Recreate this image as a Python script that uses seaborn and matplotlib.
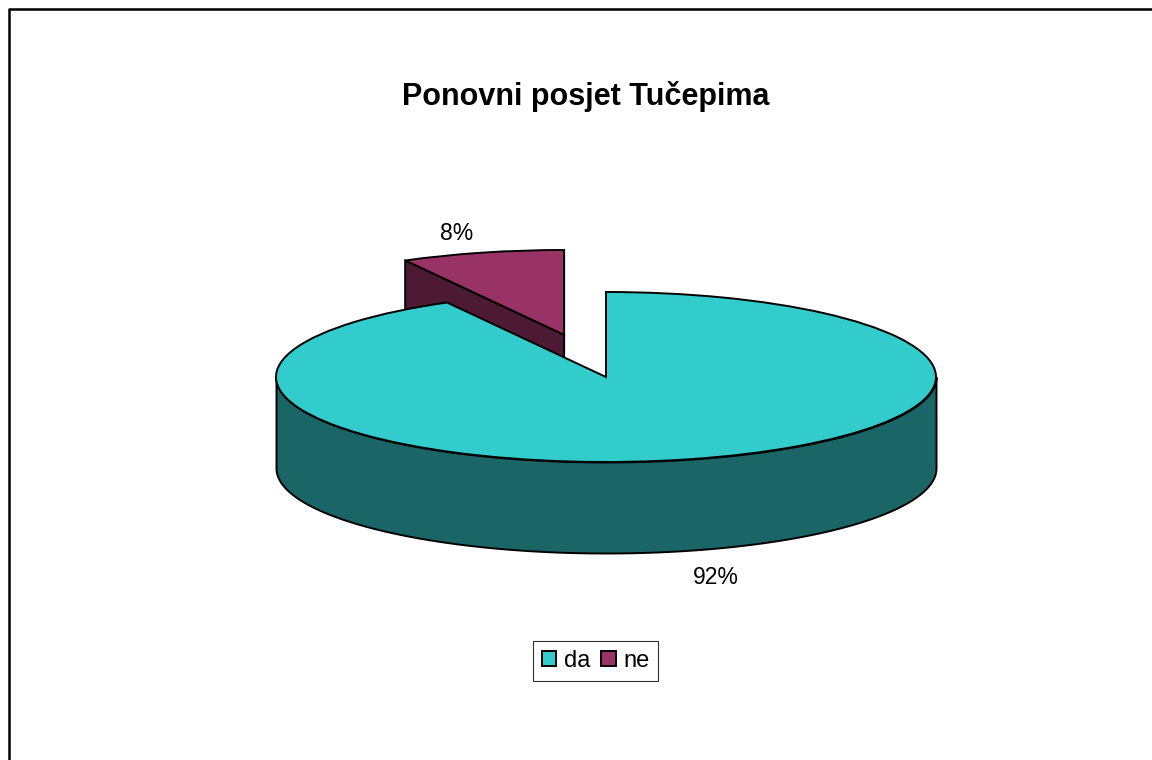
import matplotlib
matplotlib.use('Agg')
import matplotlib.pyplot as plt
import seaborn as sns
import numpy as np

title = 'Ponovni posjet Tučepima'
categories = ['da', 'ne']
values = [92, 8]
pct_labels = ['92%', '8%']

W, H = 1152, 760
# top ellipse of the pie in pixels
cx, cy, rx, ry = 606, 377, 330, 85
depth = 91 / ry
explode = [0, 0.51]

sns.set_theme(style='white')
plt.rcParams['font.family'] = ['Liberation Sans', 'DejaVu Sans']

top_cols = sns.color_palette(['#33CCCC', '#993366'])
side_cols = sns.color_palette(['#1A6666', '#4D1A33'])

fig = plt.figure(figsize=(W / 100, H / 100), dpi=100)
ax = fig.add_axes([0, 0, 1, 1])

wedges, _ = ax.pie(values, startangle=90, counterclock=False, explode=explode,
                   colors=top_cols, wedgeprops={'edgecolor': 'black', 'linewidth': 1.4, 'zorder': 5})
main, small = wedges
small.set_zorder(2)

# pie() forces a round pie, squash it to get the tilted look
ax.set_aspect('auto')
ax.set_xlim(-cx / rx, (W - cx) / rx)
ax.set_ylim(-(H - cy) / ry, cy / ry)

# front wall of the big slice
t = np.radians(np.linspace(180, 360, 200))
ax.fill_between(np.cos(t), np.sin(t), np.sin(t) - depth, color=side_cols[0],
                edgecolor='black', linewidth=1.4, zorder=3)

# cut face of the pulled out slice
sx, sy = small.center
a = np.radians(small.theta2)
ax.fill([sx, sx + np.cos(a), sx + np.cos(a), sx],
        [sy, sy + np.sin(a), sy + np.sin(a) - depth, sy - depth],
        facecolor=side_cols[1], edgecolor='black', linewidth=1.4, zorder=2.5)

ax.text((716 - cx) / rx, (cy - 577) / ry, pct_labels[0], ha='center', va='center', fontsize=16.5, color='black')
ax.text((457 - cx) / rx, (cy - 233) / ry, pct_labels[1], ha='center', va='center', fontsize=16.5, color='black')

fig.text(586 / W, 1 - 96 / H, title, ha='center', va='center', fontsize=22, fontweight='bold', color='black')

leg = ax.legend(wedges, categories, loc='center', bbox_to_anchor=(595.5 / W, 1 - 661 / H),
                bbox_transform=fig.transFigure, ncol=2, frameon=True, fancybox=False,
                edgecolor='#303030', framealpha=1, fontsize=17, labelcolor='black',
                handlelength=0.62, handleheight=0.62, handletextpad=0.32, columnspacing=0.45,
                borderpad=0.38, borderaxespad=0)
leg.get_frame().set_linewidth(0.8)
leg.set_zorder(10)

# outer chart border, the bottom is cut off in the original
fig.add_artist(plt.Line2D([8.5 / W, 8.5 / W, 1], [0, 1 - 8.5 / H, 1 - 8.5 / H], color='black', linewidth=1.8))

plt.savefig('out.png', dpi=100)
